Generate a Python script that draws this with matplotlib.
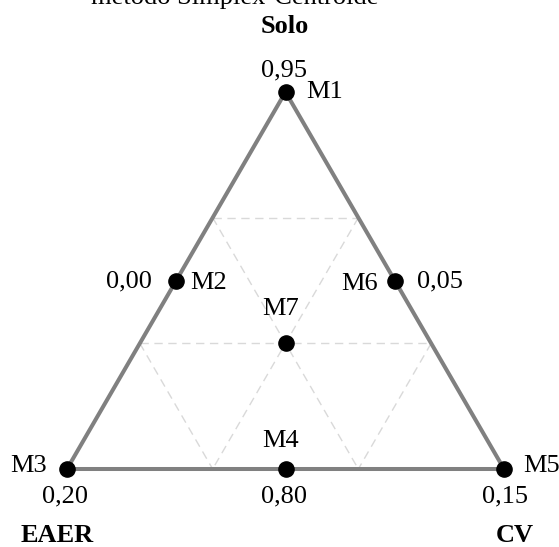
import numpy as np
import matplotlib
matplotlib.use("Agg")
import matplotlib.pyplot as plt


# Simplex-centroid design: proportions of (Solo, EAER, CV) per mixture
mixtures = ["M1", "M2", "M3", "M4", "M5", "M6", "M7"]
solo = [1.0, 0.5, 0.0, 0.0, 0.0, 0.5, 1 / 3]
eaer = [0.0, 0.5, 1.0, 0.5, 0.0, 0.0, 1 / 3]
cv = [0.0, 0.0, 0.0, 0.5, 1.0, 0.5, 1 / 3]
responses = ["0,95", "0,00", "0,20", "0,80", "0,15", "0,05", ""]

components = ["Solo", "EAER", "CV"]
title = "método Simplex-Centroide"

# label placement (pixel offsets from each point; y positive upward)
name_pos = {
    "M1": (21, -6, "left"), "M2": (14, -8.5, "left"), "M3": (-20, -3, "right"),
    "M4": (-5, 22, "center"), "M5": (19, -3, "left"), "M6": (-16.5, -9.5, "right"),
    "M7": (-5, 28, "center"),
}
value_pos = {
    "M1": (-2, 16, "center"), "M2": (-24, -6.5, "right"), "M3": (-2, -33, "center"),
    "M4": (-1, -33, "center"), "M5": (1, -33, "center"), "M6": (22.5, -6.5, "left"),
}
component_pos = [(-1, 59), (-10, -73), (11, -73)]

plt.rcParams["font.family"] = ["Liberation Serif", "DejaVu Serif"]
FS = 19
H = np.sqrt(3) / 2


def to_xy(a, b, c):
    # a = Solo (top), b = EAER (bottom left), c = CV (bottom right)
    a, b, c = np.asarray(a), np.asarray(b), np.asarray(c)
    return c + a / 2, a * H


W, Hpx = 559, 547
fig = plt.figure(figsize=(W / 100, Hpx / 100), dpi=100)
ax = fig.add_axes([67 / W, 78 / Hpx, 437 / W, 377 / Hpx])
ax.set_xlim(0, 1)
ax.set_ylim(0, H)
ax.axis("off")

# dashed grid at 1/3 and 2/3 of each component
for k in (1 / 3, 2 / 3):
    r = 1 - k
    segs = [
        ((k, r, 0), (k, 0, r)),
        ((r, k, 0), (0, k, r)),
        ((r, 0, k), (0, r, k)),
    ]
    for p, q in segs:
        x0, y0 = to_xy(*p)
        x1, y1 = to_xy(*q)
        ax.plot([x0, x1], [y0, y1], color="#d9d9d9", lw=1.0,
                linestyle=(0, (6, 4)), zorder=1, clip_on=False)

# triangle outline
vx, vy = to_xy([1, 0, 0, 1], [0, 1, 0, 0], [0, 0, 1, 0])
ax.plot(vx, vy, color="#808080", lw=2.9, solid_joinstyle="round",
        zorder=2, clip_on=False)

# design points
px, py = to_xy(solo, eaer, cv)
ax.scatter(px, py, s=120, color="black", zorder=3, clip_on=False)

for name, x, y, val in zip(mixtures, px, py, responses):
    dx, dy, ha = name_pos[name]
    ax.annotate(name, (x, y), xytext=(dx, dy), textcoords="offset pixels",
                ha=ha, va="baseline", fontsize=FS)
    if val:
        dx, dy, ha = value_pos[name]
        ax.annotate(val, (x, y), xytext=(dx, dy), textcoords="offset pixels",
                    ha=ha, va="baseline", fontsize=FS)

# component names at the vertices
for comp, x, y, (dx, dy) in zip(components, vx[:3], vy[:3], component_pos):
    ax.annotate(comp, (x, y), xytext=(dx, dy), textcoords="offset pixels",
                ha="center", va="baseline", fontsize=FS, fontweight="bold")

fig.text(235 / W, 1 - 4 / Hpx, title, ha="center", va="baseline", fontsize=FS)

fig.savefig("out.png", dpi=100)
